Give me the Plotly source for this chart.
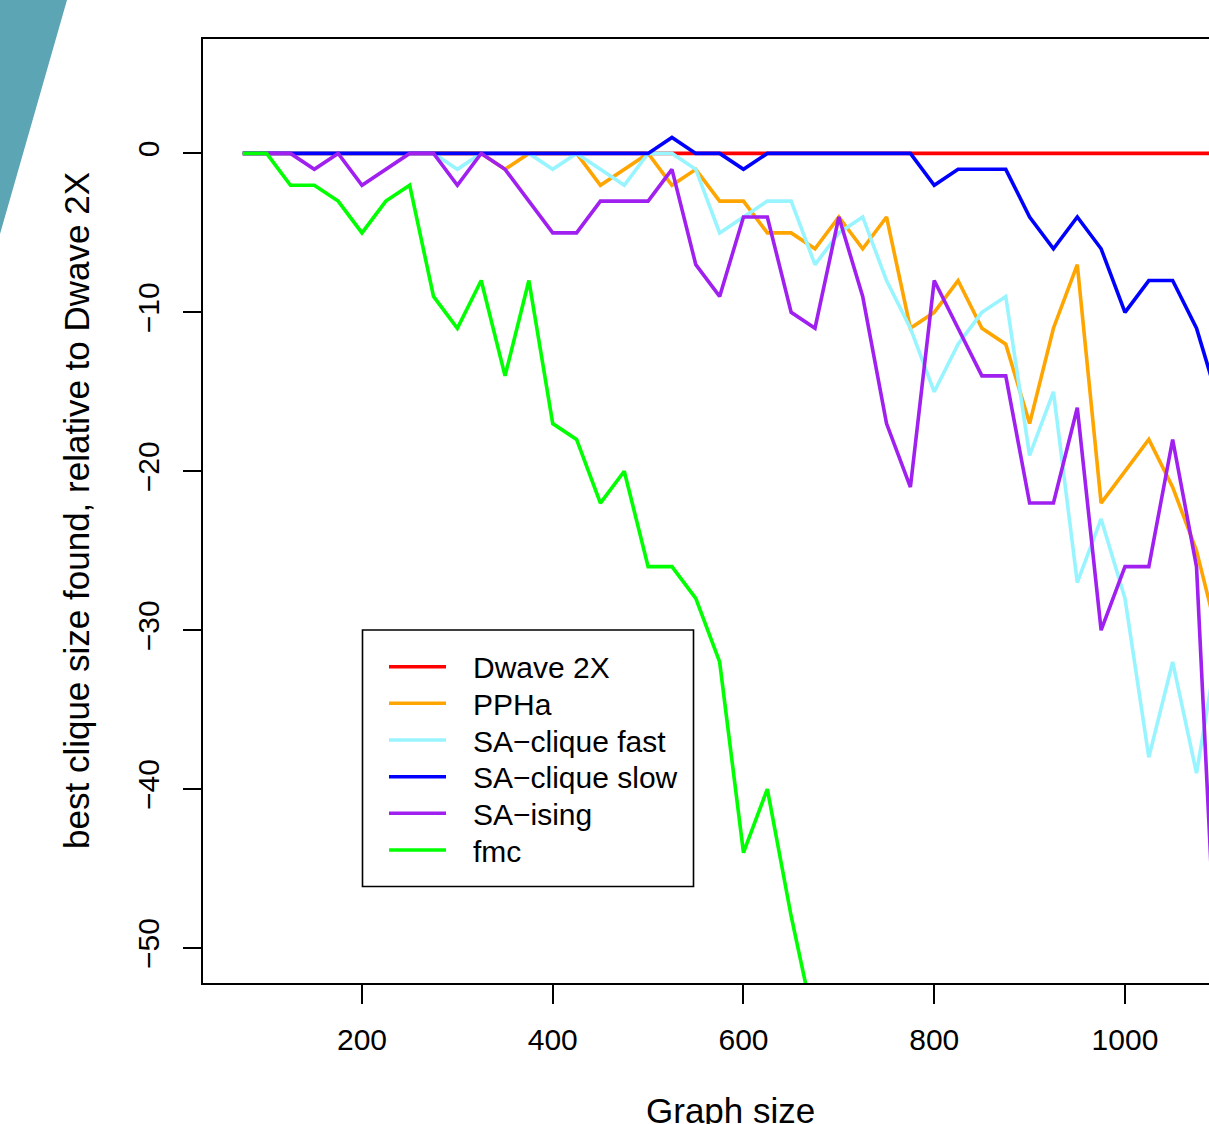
import plotly.graph_objects as go

# ---------------- data ----------------
graph_size = [75, 100, 125, 150, 175, 200, 225, 250, 275, 300, 325, 350, 375, 400,
              425, 450, 475, 500, 525, 550, 575, 600, 625, 650, 675, 700, 725, 750,
              775, 800, 825, 850, 875, 900, 925, 950, 975, 1000, 1025, 1050, 1075, 1100]

dwave_2x = [0, 0, 0, 0, 0, 0, 0, 0, 0, 0, 0, 0, 0, 0, 0, 0, 0, 0, 0, 0, 0,
            0, 0, 0, 0, 0, 0, 0, 0, 0, 0, 0, 0, 0, 0, 0, 0, 0, 0, 0, 0, 0]

ppha = [0, 0, 0, 0, 0, 0, 0, 0, 0, 0, 0, -1, 0, 0, 0, -2, -1, 0, -2, -1, -3,
        -3, -5, -5, -6, -4, -6, -4, -11, -10, -8, -11, -12, -17, -11, -7, -22, -20, -18, -21, -25, -31]

sa_clique_fast = [0, 0, 0, 0, 0, 0, 0, 0, 0, -1, 0, 0, 0, -1, 0, -1, -2, 0, 0, -1, -5,
                  -4, -3, -3, -7, -5, -4, -8, -11, -15, -12, -10, -9, -19, -15, -27, -23, -28, -38, -32, -39, -30]

sa_clique_slow = [0, 0, 0, 0, 0, 0, 0, 0, 0, 0, 0, 0, 0, 0, 0, 0, 0, 0, 1, 0, 0,
                  -1, 0, 0, 0, 0, 0, 0, 0, -2, -1, -1, -1, -4, -6, -4, -6, -10, -8, -8, -11, -16]

sa_ising = [0, 0, 0, -1, 0, -2, -1, 0, 0, -2, 0, -1, -3, -5, -5, -3, -3, -3, -1, -7, -9,
            -4, -4, -10, -11, -4, -9, -17, -21, -8, -11, -14, -14, -22, -22, -16, -30, -26, -26, -18, -26, -57]

fmc = [0, 0, -2, -2, -3, -5, -3, -2, -9, -11, -8, -14, -8, -17, -18, -22, -20, -26, -26, -28, -32,
       -44, -40, -48, -55]

series_names = ["Dwave 2X", "PPHa", "SA\u2212clique fast", "SA\u2212clique slow", "SA\u2212ising", "fmc"]
series_values = [dwave_2x, ppha, sa_clique_fast, sa_clique_slow, sa_ising, fmc]
series_colors = ["#FF0000", "#FFA500", "#98F5FF", "#0000FF", "#A020F0", "#00FF00"]

x_ticks = [200, 400, 600, 800, 1000]
y_ticks = [0, -10, -20, -30, -40, -50]

x_title = "Graph size"
y_title = "best clique size found, relative to Dwave 2X"

# ---------------- layout geometry (pixels) ----------------
W, H = 1209, 1124
L, T, B = 203, 39, 983
PW, PH = W - L, B - T
FONT = "Liberation Sans, Arial, Helvetica, sans-serif"
LW = 3.6


def px(xp):
    return (xp - L) / PW


def py(yp):
    return (B - yp) / PH


fig = go.Figure()
for name, vals, col in zip(series_names, series_values, series_colors):
    fig.add_trace(go.Scatter(x=graph_size[:len(vals)], y=vals, mode="lines", name=name,
                             line=dict(color=col, width=LW), showlegend=False))

shapes = []
annotations = []

# decorative teal wedge (top-left)
shapes.append(dict(type="path", xref="paper", yref="paper",
                   path=f"M {px(0)} {py(0)} L {px(67)} {py(0)} L {px(0)} {py(234)} Z",
                   fillcolor="#5CA5B5", line=dict(width=0), layer="below"))

# manual legend (R-style box)
shapes.append(dict(type="rect", xref="paper", yref="paper",
                   x0=px(362.5), x1=px(693.5), y0=py(630), y1=py(886.5),
                   fillcolor="white", line=dict(color="black", width=1.6), layer="above"))
row_y = [666.7, 703.3, 740.0, 776.7, 813.3, 850.0]
for name, col, ry in zip(series_names, series_colors, row_y):
    shapes.append(dict(type="line", xref="paper", yref="paper",
                       x0=px(389), x1=px(446), y0=py(ry), y1=py(ry),
                       line=dict(color=col, width=LW), layer="above"))
    annotations.append(dict(text=name, xref="paper", yref="paper", x=px(471), y=py(ry + 1),
                            xanchor="left", yanchor="middle", showarrow=False,
                            font=dict(family=FONT, size=30, color="black")))

# axis titles
annotations.append(dict(text=x_title, xref="paper", yref="paper", x=px(730), y=py(1110),
                        xanchor="center", yanchor="middle", showarrow=False,
                        font=dict(family=FONT, size=35, color="black")))
annotations.append(dict(text=y_title, xref="paper", yref="paper", x=px(76), y=py(511),
                        xanchor="center", yanchor="middle", showarrow=False, textangle=-90,
                        font=dict(family=FONT, size=35, color="black")))

fig.update_layout(
    width=W, height=H,
    margin=dict(l=L, r=0, t=T, b=H - B, pad=0),
    paper_bgcolor="white", plot_bgcolor="white",
    font=dict(family=FONT, size=30, color="black"),
    shapes=shapes, annotations=annotations,
    showlegend=False,
)
fig.update_xaxes(range=[33.3, 1088.1], tickvals=x_ticks, ticks="outside", ticklen=19,
                 tickwidth=1.6, tickcolor="black", showline=True, linecolor="black",
                 linewidth=1.8, mirror=True, showgrid=False, zeroline=False,
                 tickfont=dict(family=FONT, size=30, color="black"), ticklabelstandoff=10)
fig.update_yaxes(range=[-52.2, 7.2], tickvals=y_ticks, ticks="outside", ticklen=18,
                 tickwidth=1.6, tickcolor="black", showline=True, linecolor="black",
                 linewidth=1.8, mirror=False, showgrid=False, zeroline=False, tickangle=-90,
                 tickfont=dict(family=FONT, size=30, color="black"), ticklabelstandoff=12)

fig.write_html(
    "out.html",
    config={"displayModeBar": False},
    post_script="document.body.style.margin='0';document.body.style.overflow='hidden';",
)
